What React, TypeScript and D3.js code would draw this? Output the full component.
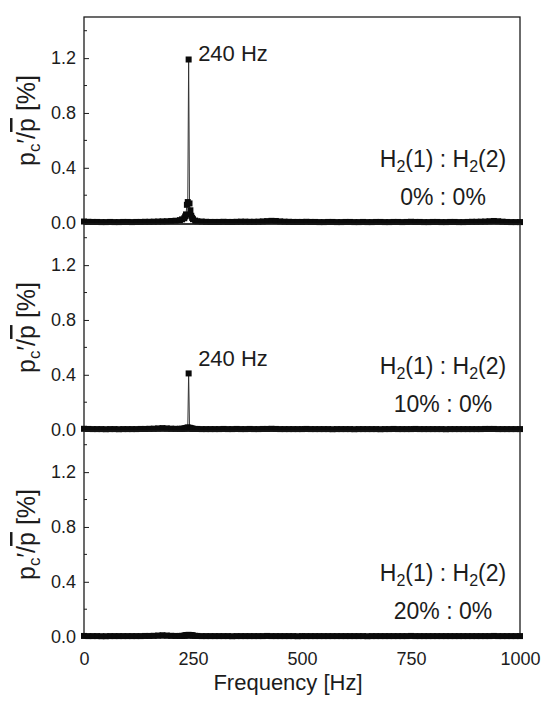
import React, { useEffect, useRef } from 'react'
import * as d3 from 'd3'

// frequency grid of the spectra [Hz] (denser around the 240 Hz peak)
const freqs = [
  0, 10, 20, 30, 40, 50, 60, 70, 80, 90,
  100, 110, 120, 130, 140, 150, 160, 170, 180, 190,
  200, 210, 220, 225, 230, 232, 234, 236, 238, 240,
  242, 244, 246, 248, 250, 255, 260, 270, 280, 290,
  300, 310, 320, 330, 340, 350, 360, 370, 380, 390,
  400, 410, 420, 430, 440, 450, 460, 470, 480, 490,
  500, 510, 520, 530, 540, 550, 560, 570, 580, 590,
  600, 610, 620, 630, 640, 650, 660, 670, 680, 690,
  700, 710, 720, 730, 740, 750, 760, 770, 780, 790,
  800, 810, 820, 830, 840, 850, 860, 870, 880, 890,
  900, 910, 920, 930, 940, 950, 960, 970, 980, 990,
  1000,
]

// p_c'/p [%], H2(1) : H2(2) = 0% : 0%
const amp0 = [
  0.008, 0.006, 0.005, 0.005, 0.004, 0.004, 0.005, 0.004, 0.004, 0.005,
  0.005, 0.004, 0.005, 0.005, 0.006, 0.006, 0.007, 0.008, 0.009, 0.01,
  0.012, 0.014, 0.018, 0.024, 0.032, 0.045, 0.06, 0.13, 0.15, 1.19,
  0.14, 0.09, 0.05, 0.035, 0.025, 0.015, 0.01, 0.008, 0.006, 0.005,
  0.005, 0.005, 0.006, 0.005, 0.005, 0.006, 0.007, 0.007, 0.006, 0.006,
  0.007, 0.009, 0.011, 0.013, 0.012, 0.009, 0.007, 0.006, 0.005, 0.005,
  0.005, 0.006, 0.005, 0.005, 0.004, 0.004, 0.005, 0.005, 0.004, 0.004,
  0.005, 0.005, 0.004, 0.004, 0.005, 0.004, 0.004, 0.005, 0.005, 0.004,
  0.004, 0.005, 0.005, 0.004, 0.005, 0.006, 0.005, 0.005, 0.004, 0.004,
  0.005, 0.005, 0.004, 0.004, 0.005, 0.005, 0.004, 0.004, 0.005, 0.006,
  0.006, 0.007, 0.008, 0.01, 0.012, 0.01, 0.007, 0.005, 0.004, 0.004,
  0.004,
]

// H2(1) : H2(2) = 10% : 0%
const amp10 = [
  0.006, 0.005, 0.004, 0.004, 0.004, 0.003, 0.004, 0.004, 0.003, 0.004,
  0.004, 0.004, 0.004, 0.005, 0.005, 0.006, 0.007, 0.009, 0.011, 0.009,
  0.007, 0.006, 0.006, 0.007, 0.008, 0.009, 0.011, 0.013, 0.016, 0.41,
  0.014, 0.011, 0.009, 0.007, 0.006, 0.005, 0.005, 0.004, 0.004, 0.004,
  0.004, 0.004, 0.005, 0.004, 0.004, 0.005, 0.004, 0.004, 0.005, 0.004,
  0.004, 0.005, 0.005, 0.006, 0.005, 0.004, 0.004, 0.004, 0.004, 0.004,
  0.004, 0.005, 0.004, 0.004, 0.004, 0.004, 0.004, 0.003, 0.004, 0.004,
  0.004, 0.004, 0.003, 0.004, 0.004, 0.004, 0.004, 0.004, 0.003, 0.004,
  0.004, 0.005, 0.004, 0.004, 0.004, 0.004, 0.005, 0.004, 0.004, 0.004,
  0.004, 0.004, 0.004, 0.003, 0.004, 0.004, 0.004, 0.004, 0.004, 0.004,
  0.004, 0.004, 0.005, 0.005, 0.005, 0.004, 0.004, 0.004, 0.004, 0.004,
  0.004,
]

// H2(1) : H2(2) = 20% : 0%
const amp20 = [
  0.005, 0.004, 0.004, 0.004, 0.003, 0.003, 0.004, 0.004, 0.004, 0.004,
  0.004, 0.004, 0.004, 0.004, 0.005, 0.005, 0.006, 0.008, 0.01, 0.008,
  0.006, 0.005, 0.005, 0.006, 0.007, 0.008, 0.01, 0.011, 0.012, 0.013,
  0.012, 0.011, 0.01, 0.009, 0.008, 0.006, 0.005, 0.004, 0.004, 0.004,
  0.004, 0.004, 0.004, 0.004, 0.003, 0.004, 0.004, 0.004, 0.004, 0.004,
  0.004, 0.004, 0.005, 0.004, 0.004, 0.004, 0.004, 0.004, 0.004, 0.003,
  0.004, 0.004, 0.004, 0.004, 0.004, 0.004, 0.004, 0.004, 0.004, 0.004,
  0.004, 0.004, 0.004, 0.004, 0.004, 0.003, 0.004, 0.004, 0.004, 0.004,
  0.004, 0.004, 0.004, 0.004, 0.004, 0.005, 0.004, 0.004, 0.004, 0.004,
  0.004, 0.004, 0.004, 0.004, 0.004, 0.004, 0.004, 0.004, 0.004, 0.004,
  0.004, 0.004, 0.004, 0.004, 0.005, 0.004, 0.004, 0.004, 0.004, 0.004,
  0.004,
]

const mixLabels = ['0% : 0%', '10% : 0%', '20% : 0%']
const peakFreq = 240
const peakLabel = '240 Hz'
const xTicks = [0, 250, 500, 750, 1000]
const yTicks = [0, 0.4, 0.8, 1.2]
const yMinorTicks = [0.2, 0.6, 1.0, 1.4]

const FONT = '"Liberation Sans", Arial, Helvetica, sans-serif'
const INK = '#1c1c1c'

export default function App() {
  const ref = useRef<SVGSVGElement>(null)

  useEffect(() => {
    const svg = d3.select(ref.current)
    svg.selectAll('*').remove()

    const left = 84
    const right = 520
    const top0 = 17
    const panelH = 207

    const x = d3.scaleLinear().domain([0, 1000]).range([left, right])

    const panels = [
      { amps: amp0, mix: mixLabels[0], note: true, noteDy: 2 },
      { amps: amp10, mix: mixLabels[1], note: true, noteDy: -7 },
      { amps: amp20, mix: mixLabels[2], note: false, noteDy: 0 },
    ]

    panels.forEach((p, i) => {
      const top = top0 + i * panelH
      const bottom = top + panelH
      const y = d3.scaleLinear().domain([-0.01, 1.5]).range([bottom, top])
      const g = svg.append('g')

      // y axis, ticks pointing inwards
      const ax = g
        .append('g')
        .attr('transform', `translate(${left},0)`)
        .call(
          d3
            .axisLeft(y)
            .tickValues(yTicks)
            .tickSize(-5)
            .tickPadding(8)
            .tickFormat(d3.format('.1f'))
        )
      ax.select('.domain').remove()
      ax.selectAll('line').attr('stroke', INK)
      ax.selectAll('text')
        .attr('font-family', FONT)
        .attr('font-size', 18)
        .attr('fill', INK)

      g.selectAll('.minor')
        .data(yMinorTicks)
        .enter()
        .append('line')
        .attr('x1', left)
        .attr('x2', left + 3)
        .attr('y1', (d) => y(d))
        .attr('y2', (d) => y(d))
        .attr('stroke', INK)

      // x ticks at the bottom of each panel
      const bx = g
        .append('g')
        .attr('transform', `translate(0,${bottom})`)
        .call(
          d3
            .axisBottom(x)
            .tickValues(xTicks)
            .tickSize(-5)
            .tickPadding(14)
            .tickFormat(i === 2 ? d3.format('d') : () => '')
        )
      bx.select('.domain').remove()
      bx.selectAll('line').attr('stroke', INK)
      bx.selectAll('text')
        .attr('font-family', FONT)
        .attr('font-size', 18)
        .attr('fill', INK)

      // frame
      g.append('rect')
        .attr('x', left)
        .attr('y', top)
        .attr('width', right - left)
        .attr('height', panelH)
        .attr('fill', 'none')
        .attr('stroke', INK)
        .attr('stroke-width', 1.3)

      // spectrum: thin line plus square markers
      const pts = freqs.map((f, k) => [f, p.amps[k]] as [number, number])
      const line = d3
        .line<[number, number]>()
        .x((d) => x(d[0]))
        .y((d) => y(d[1]))
      g.append('path')
        .attr('d', line(pts))
        .attr('fill', 'none')
        .attr('stroke', '#333')
        .attr('stroke-width', 1)
      const ms = 6
      g.selectAll('.pt')
        .data(pts)
        .enter()
        .append('rect')
        .attr('x', (d) => x(d[0]) - ms / 2)
        .attr('y', (d) => y(d[1]) - ms / 2)
        .attr('width', ms)
        .attr('height', ms)
        .attr('fill', '#0a0a0a')

      // peak annotation
      if (p.note) {
        const k = freqs.indexOf(peakFreq)
        g.append('text')
          .attr('x', x(peakFreq) + 9.5)
          .attr('y', y(p.amps[k]) + p.noteDy)
          .attr('font-family', FONT)
          .attr('font-size', 22)
          .attr('fill', INK)
          .text(peakLabel)
      }

      // mixture annotation
      const cx = 443
      const t1 = g
        .append('text')
        .attr('x', cx)
        .attr('y', top + 150)
        .attr('text-anchor', 'middle')
        .attr('font-family', FONT)
        .attr('font-size', 23)
        .attr('fill', INK)
      t1.append('tspan').text('H')
      t1.append('tspan').attr('font-size', 16).attr('dy', 5).text('2')
      t1.append('tspan').attr('dy', -5).text('(1) : H')
      t1.append('tspan').attr('font-size', 16).attr('dy', 5).text('2')
      t1.append('tspan').attr('dy', -5).text('(2)')

      g.append('text')
        .attr('x', cx)
        .attr('y', top + 188)
        .attr('text-anchor', 'middle')
        .attr('font-family', FONT)
        .attr('font-size', 23)
        .attr('fill', INK)
        .text(p.mix)

      // y label
      const yl = g
        .append('text')
        .attr('transform', `translate(35,${top + panelH / 2}) rotate(-90)`)
        .attr('text-anchor', 'middle')
        .attr('font-family', FONT)
        .attr('font-size', 25)
        .attr('fill', INK)
      yl.append('tspan').text('p')
      yl.append('tspan').attr('font-size', 17).attr('dy', 5).text('c')
      yl.append('tspan').attr('dy', -5).text('\u2032/')
      yl.append('tspan').style('text-decoration', 'overline').text('p')
      yl.append('tspan').text(' [%]')
    })

    svg
      .append('text')
      .attr('x', 288)
      .attr('y', 690)
      .attr('text-anchor', 'middle')
      .attr('font-family', FONT)
      .attr('font-size', 22)
      .attr('fill', INK)
      .text('Frequency [Hz]')
  }, [])

  return (
    <svg
      ref={ref}
      width={550}
      height={702}
      style={{ position: 'absolute', left: 0, top: 0, background: '#fff' }}
    />
  )
}
